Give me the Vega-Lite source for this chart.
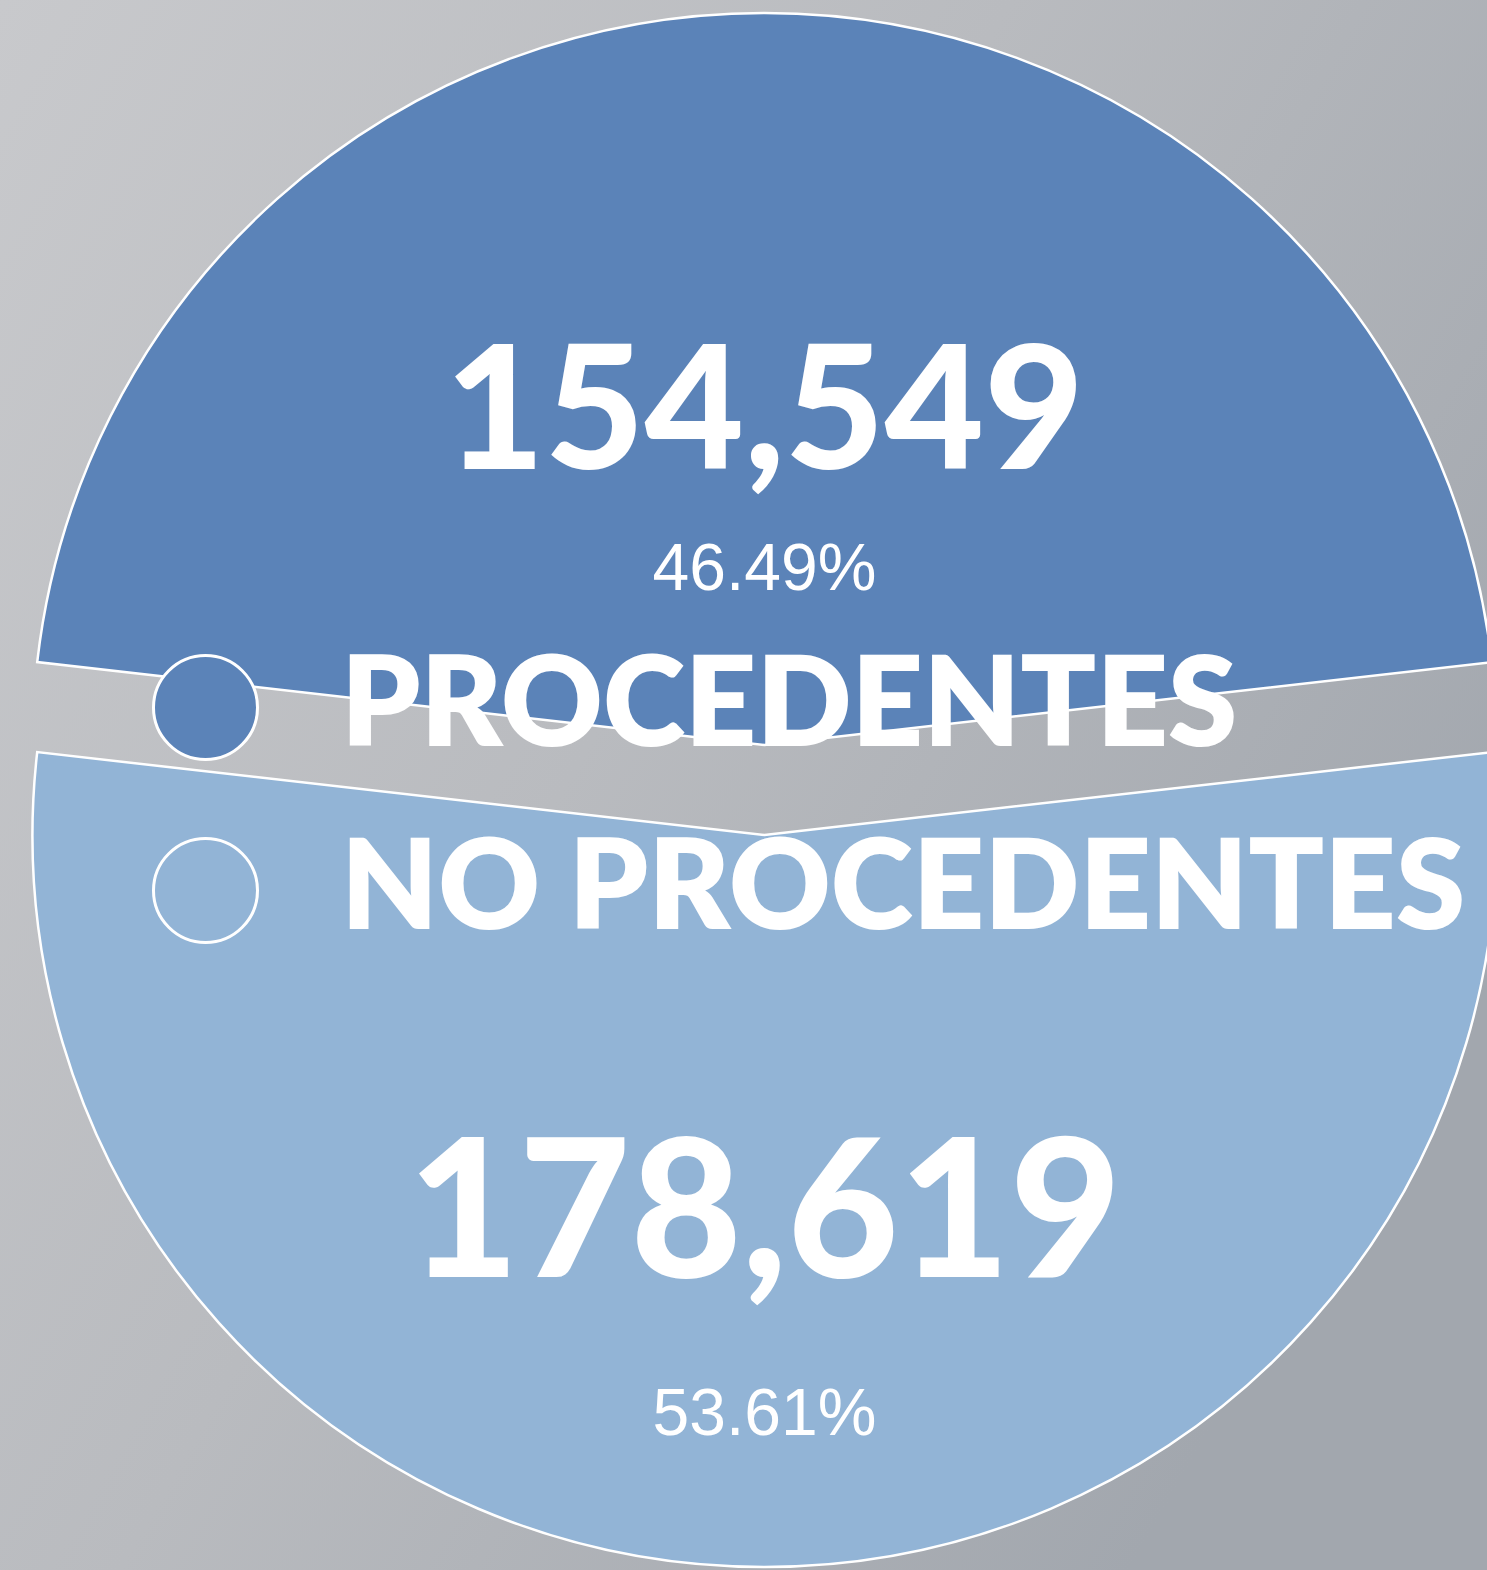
{
  "$schema": "https://vega.github.io/schema/vega-lite/v6.json",
  "width": 1487,
  "height": 1570,
  "autosize": {"type": "none"},
  "padding": 0,
  "background": "#c8c9cc",
  "config": {
    "view": {"stroke": null},
    "legend": {
      "title": null,
      "orient": "none",
      "padding": 0,
      "symbolType": "circle",
      "symbolSize": 10816,
      "symbolStrokeColor": "white",
      "symbolStrokeWidth": 3,
      "symbolOpacity": 1,
      "labelFont": "Lato",
      "labelFontWeight": 800,
      "labelFontSize": 125,
      "labelColor": "white",
      "labelOffset": 73,
      "labelLimit": 2000,
      "labelBaseline": "middle",
      "rowPadding": 57
    }
  },
  "data": {
    "values": [
      {"category": "PROCEDENTES", "value": 154549, "pct": "46.49%"},
      {"category": "NO PROCEDENTES", "value": 178619, "pct": "53.61%"}
    ]
  },
  "layer": [
    {
      "data": {"values": [{"bg": 1}]},
      "mark": {
        "type": "rect",
        "opacity": 1,
        "fill": {
          "gradient": "linear",
          "x1": 0, "y1": 0, "x2": 1, "y2": 0.6,
          "stops": [
            {"offset": 0, "color": "#c8c9cc"},
            {"offset": 0.5, "color": "#b9bbbf"},
            {"offset": 1, "color": "#a2a7ae"}
          ]
        }
      },
      "encoding": {}
    },
    {
      "mark": {"type": "arc", "outerRadius": 732, "stroke": "white", "strokeWidth": 2.5, "xOffset": 21, "yOffset": -40},
      "encoding": {
        "theta": {"field": "value", "type": "quantitative", "stack": true, "scale": {"range": [-1.4573, 4.8259], "nice": false}},
        "order": {"field": "category", "sort": "descending"},
        "color": {
          "field": "category", "type": "nominal",
          "scale": {"domain": ["PROCEDENTES", "NO PROCEDENTES"], "range": ["#5b83b8", "#92b4d6"]},
          "legend": {"orient": "none", "legendX": 143, "legendY": 645}
        },
        "opacity": {"condition": {"test": "datum.category === 'PROCEDENTES'", "value": 1}, "value": 0}
      }
    },
    {
      "mark": {"type": "arc", "outerRadius": 732, "stroke": "white", "strokeWidth": 2.5, "xOffset": 21, "yOffset": 50},
      "encoding": {
        "theta": {"field": "value", "type": "quantitative", "stack": true},
        "order": {"field": "category", "sort": "descending"},
        "color": {
          "field": "category", "type": "nominal",
          "legend": {"orient": "none", "legendX": 143, "legendY": 645}
        },
        "opacity": {"condition": {"test": "datum.category === 'NO PROCEDENTES'", "value": 1}, "value": 0}
      }
    },
    {
      "mark": {"type": "text", "radius": 328, "xOffset": 21, "yOffset": -40, "font": "Lato", "fontWeight": 900, "fontSize": 172, "fill": "white", "align": "center", "baseline": "middle"},
      "encoding": {
        "theta": {"field": "value", "type": "quantitative", "stack": true},
        "order": {"field": "category", "sort": "descending"},
        "detail": {"field": "category"},
        "text": {"field": "value", "type": "quantitative", "format": ","},
        "opacity": {"condition": {"test": "datum.category === 'PROCEDENTES'", "value": 1}, "value": 0}
      }
    },
    {
      "mark": {"type": "text", "radius": 175, "xOffset": 21, "yOffset": -40, "font": "Liberation Sans", "fontSize": 66, "fill": "white", "align": "center", "baseline": "middle"},
      "encoding": {
        "theta": {"field": "value", "type": "quantitative", "stack": true},
        "order": {"field": "category", "sort": "descending"},
        "detail": {"field": "category"},
        "text": {"field": "pct", "type": "nominal"},
        "opacity": {"condition": {"test": "datum.category === 'PROCEDENTES'", "value": 1}, "value": 0}
      }
    },
    {
      "mark": {"type": "text", "radius": 384, "xOffset": 21, "yOffset": 50, "font": "Lato", "fontWeight": 900, "fontSize": 192, "fill": "white", "align": "center", "baseline": "middle"},
      "encoding": {
        "theta": {"field": "value", "type": "quantitative", "stack": true},
        "order": {"field": "category", "sort": "descending"},
        "detail": {"field": "category"},
        "text": {"field": "value", "type": "quantitative", "format": ","},
        "opacity": {"condition": {"test": "datum.category === 'NO PROCEDENTES'", "value": 1}, "value": 0}
      }
    },
    {
      "mark": {"type": "text", "radius": 580, "xOffset": 21, "yOffset": 50, "font": "Liberation Sans", "fontSize": 66, "fill": "white", "align": "center", "baseline": "middle"},
      "encoding": {
        "theta": {"field": "value", "type": "quantitative", "stack": true},
        "order": {"field": "category", "sort": "descending"},
        "detail": {"field": "category"},
        "text": {"field": "pct", "type": "nominal"},
        "opacity": {"condition": {"test": "datum.category === 'NO PROCEDENTES'", "value": 1}, "value": 0}
      }
    }
  ]
}
